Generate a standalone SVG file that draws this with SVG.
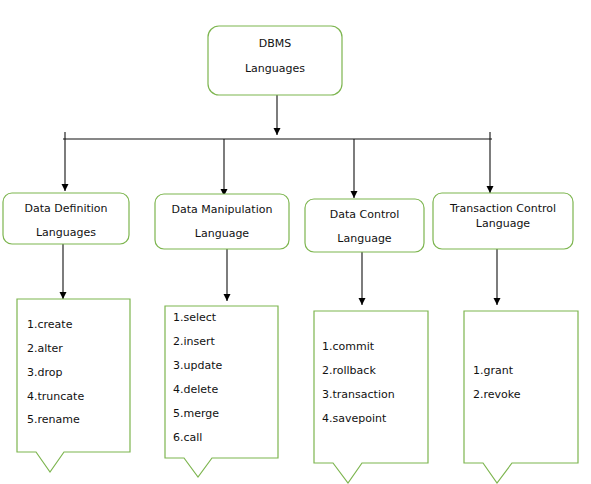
<svg xmlns="http://www.w3.org/2000/svg" width="591" height="484" viewBox="0 0 591 484">
<defs>
<marker id="ah" markerWidth="8" markerHeight="8" refX="7" refY="4" orient="auto" markerUnits="userSpaceOnUse">
<path d="M0,0.5 L7,4 L0,7.5 Z" fill="#000"/>
</marker>
<style>
.box{fill:#fff;stroke:#7DB54F;stroke-width:1.2}
.t{font-family:"DejaVu Sans",Verdana,sans-serif;font-size:11px;fill:#111}
.c{text-anchor:middle}
.ln{stroke:#111;stroke-width:1.1;fill:none}
</style>
</defs>
<rect width="591" height="484" fill="#fff"/>
<g id="connectors">
<line class="ln" x1="277" y1="95" x2="277" y2="135" marker-end="url(#ah)"/>
<line class="ln" x1="63" y1="139" x2="492" y2="139"/>
<line class="ln" x1="65" y1="132" x2="65" y2="191" marker-end="url(#ah)"/>
<line class="ln" x1="224" y1="139" x2="224" y2="196" marker-end="url(#ah)"/>
<line class="ln" x1="354" y1="139" x2="354" y2="198" marker-end="url(#ah)"/>
<line class="ln" x1="490" y1="132" x2="490" y2="193" marker-end="url(#ah)"/>
<line class="ln" x1="63" y1="244" x2="63" y2="299" marker-end="url(#ah)"/>
<line class="ln" x1="227" y1="249" x2="227" y2="301" marker-end="url(#ah)"/>
<line class="ln" x1="362" y1="252" x2="362" y2="305" marker-end="url(#ah)"/>
<line class="ln" x1="497" y1="249" x2="497" y2="305" marker-end="url(#ah)"/>
</g>
<g id="dbms">
<rect class="box" x="208" y="26" width="134" height="69" rx="11"/>
<text class="t c" x="275" y="47">DBMS</text>
<text class="t c" x="275" y="72">Languages</text>
</g>
<g id="ddl">
<rect class="box" x="3" y="193" width="126" height="51" rx="9"/>
<text class="t c" x="66" y="212">Data Definition</text>
<text class="t c" x="66" y="236">Languages</text>
</g>
<g id="dml">
<rect class="box" x="155" y="194" width="134" height="55" rx="9"/>
<text class="t c" x="222" y="213">Data Manipulation</text>
<text class="t c" x="222" y="237">Language</text>
</g>
<g id="dcl">
<rect class="box" x="305" y="199" width="119" height="53" rx="9"/>
<text class="t c" x="364.5" y="218">Data Control</text>
<text class="t c" x="364.5" y="242">Language</text>
</g>
<g id="tcl">
<rect class="box" x="433" y="193" width="140" height="56" rx="9"/>
<text class="t c" x="503" y="212">Transaction Control</text>
<text class="t c" x="503" y="227">Language</text>
</g>
<g id="ddl-list">
<path class="box" d="M17,299 H130 V452 H64 L50,472 L36,452 H17 Z"/>
<text class="t" x="27" y="328">1.create</text>
<text class="t" x="27" y="352">2.alter</text>
<text class="t" x="27" y="376">3.drop</text>
<text class="t" x="27" y="400">4.truncate</text>
<text class="t" x="27" y="423">5.rename</text>
</g>
<g id="dml-list">
<path class="box" d="M165,306 H278 V458 H212 L198,477 L184,458 H165 Z"/>
<text class="t" x="173" y="321">1.select</text>
<text class="t" x="173" y="345">2.insert</text>
<text class="t" x="173" y="369">3.update</text>
<text class="t" x="173" y="393">4.delete</text>
<text class="t" x="173" y="417">5.merge</text>
<text class="t" x="173" y="441">6.call</text>
</g>
<g id="dcl-list">
<path class="box" d="M314,311 H428 V463 H362 L348,483 L333,463 H314 Z"/>
<text class="t" x="322" y="350">1.commit</text>
<text class="t" x="322" y="374">2.rollback</text>
<text class="t" x="322" y="398">3.transaction</text>
<text class="t" x="322" y="422">4.savepoint</text>
</g>
<g id="tcl-list">
<path class="box" d="M464,311 H578 V463 H512 L497,483 L483,463 H464 Z"/>
<text class="t" x="473" y="374">1.grant</text>
<text class="t" x="473" y="398">2.revoke</text>
</g>
</svg>
